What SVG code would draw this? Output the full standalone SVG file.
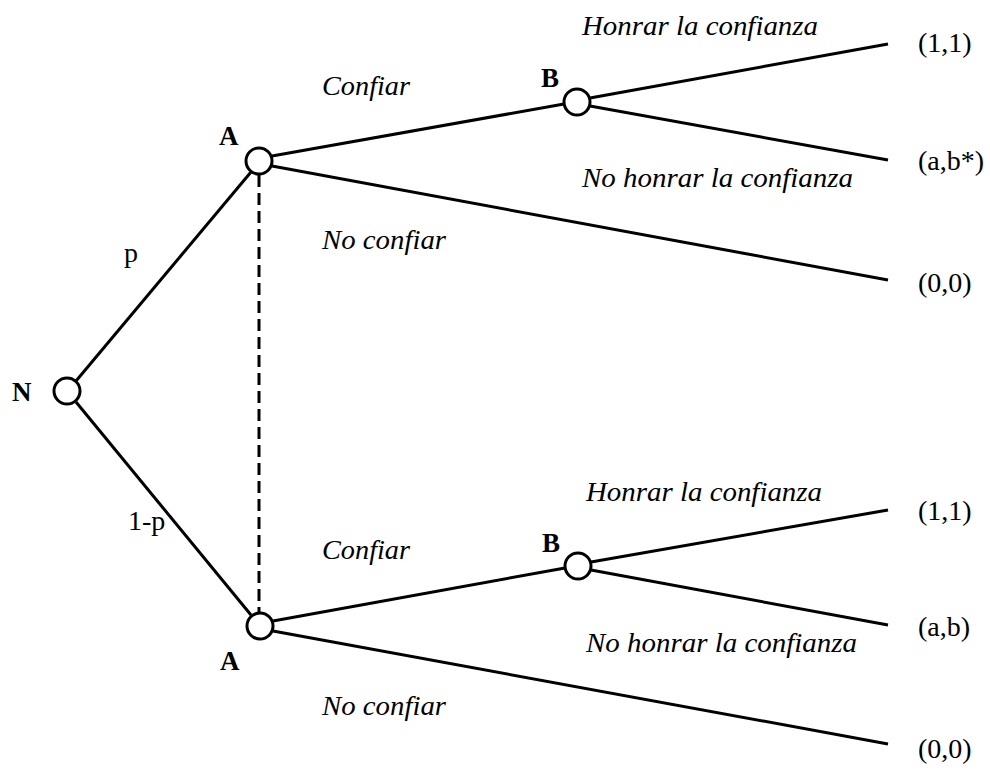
<svg xmlns="http://www.w3.org/2000/svg" width="990" height="773" viewBox="0 0 990 773">
<style>
.edge{stroke:#000;stroke-width:3;fill:none}
.dash{stroke:#000;stroke-width:3;fill:none;stroke-dasharray:12,6}
.node{fill:#fff;stroke:#000;stroke-width:3}
.lbl{font-family:"Liberation Serif",serif;font-size:27px;font-weight:bold;fill:#000}
.it{font-family:"Liberation Serif",serif;font-size:27px;font-style:italic;fill:#000}
.pay{font-family:"Liberation Serif",serif;font-size:28px;fill:#000}
</style>
<rect width="990" height="773" fill="#fff"/>
<g id="connectors">
<line class="edge" x1="76" y1="381" x2="251" y2="172"/>
<line class="edge" x1="76" y1="402" x2="251" y2="615"/>
<line class="dash" x1="259" y1="175" x2="259" y2="612"/>
<line class="edge" x1="272" y1="156" x2="564" y2="104"/>
<line class="edge" x1="272" y1="166" x2="888" y2="280"/>
<line class="edge" x1="590" y1="98" x2="888" y2="44"/>
<line class="edge" x1="590" y1="106" x2="888" y2="160"/>
<line class="edge" x1="273" y1="621" x2="565" y2="568"/>
<line class="edge" x1="273" y1="631" x2="888" y2="744"/>
<line class="edge" x1="591" y1="562" x2="888" y2="510"/>
<line class="edge" x1="591" y1="570" x2="888" y2="625"/>
</g>
<g id="node-N"><circle class="node" cx="67" cy="391" r="13"/><text class="lbl" x="12" y="401">N</text></g>
<g id="node-A1"><circle class="node" cx="259" cy="161" r="13"/><text class="lbl" x="219" y="145">A</text></g>
<g id="node-B1"><circle class="node" cx="577" cy="102" r="13"/><text class="lbl" x="541" y="87">B</text></g>
<g id="node-A2"><circle class="node" cx="260" cy="626" r="13"/><text class="lbl" x="220" y="670">A</text></g>
<g id="node-B2"><circle class="node" cx="578" cy="566" r="13"/><text class="lbl" x="542" y="552">B</text></g>
<g id="labels">
<text class="pay" x="124" y="262">p</text>
<text class="pay" x="128" y="530">1-p</text>
<text class="it" x="322" y="95" textLength="88" lengthAdjust="spacingAndGlyphs">Confiar</text>
<text class="it" x="322" y="249" textLength="124" lengthAdjust="spacingAndGlyphs">No confiar</text>
<text class="it" x="582" y="35" textLength="236" lengthAdjust="spacingAndGlyphs">Honrar la confianza</text>
<text class="it" x="582" y="187" textLength="271" lengthAdjust="spacingAndGlyphs">No honrar la confianza</text>
<text class="it" x="322" y="559" textLength="88" lengthAdjust="spacingAndGlyphs">Confiar</text>
<text class="it" x="322" y="715" textLength="124" lengthAdjust="spacingAndGlyphs">No confiar</text>
<text class="it" x="586" y="501" textLength="236" lengthAdjust="spacingAndGlyphs">Honrar la confianza</text>
<text class="it" x="586" y="652" textLength="271" lengthAdjust="spacingAndGlyphs">No honrar la confianza</text>
<text class="pay" x="918" y="52">(1,1)</text>
<text class="pay" x="918" y="170">(a,b*)</text>
<text class="pay" x="918" y="292">(0,0)</text>
<text class="pay" x="918" y="520">(1,1)</text>
<text class="pay" x="918" y="636">(a,b)</text>
<text class="pay" x="918" y="758">(0,0)</text>
</g>
</svg>
